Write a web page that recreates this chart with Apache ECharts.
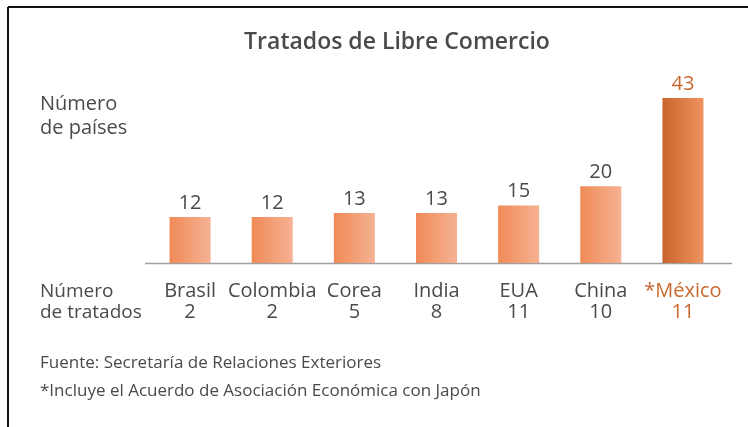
<!DOCTYPE html>
<html>
<head>
<meta charset="utf-8">
<script src="https://cdn.jsdelivr.net/npm/echarts@6/dist/echarts.min.js"></script>
<style>
  html, body { margin: 0; padding: 0; background: #fff; }
  #chart { width: 748px; height: 427px; }
</style>
</head>
<body>
<div id="chart"></div>
<script>
const countries = ['Brasil', 'Colombia', 'Corea', 'India', 'EUA', 'China', '*México']
const paises = [12, 12, 13, 13, 15, 20, 43]
const tratados = [2, 2, 5, 8, 11, 10, 11]
const highlight = '*México'

const FONT = "'Open Sans', 'Noto Sans', sans-serif"
const TEXT = '#4a4a4a'
const ORANGE = '#c8682e'

const lightBar = new echarts.graphic.LinearGradient(0, 0, 1, 0, [
  { offset: 0, color: '#f08a57' },
  { offset: 1, color: '#f5b293' },
])
const darkBar = new echarts.graphic.LinearGradient(0, 0, 1, 0, [
  { offset: 0, color: '#c8642c' },
  { offset: 1, color: '#f0935f' },
])

const chart = echarts.init(document.getElementById('chart'))

chart.setOption({
  animation: false,
  textStyle: { fontFamily: FONT },
  title: {
    text: 'Tratados de Libre Comercio',
    left: 392,
    textAlign: 'center',
    top: 26,
    textStyle: { fontFamily: FONT, fontSize: 23, fontWeight: 600, color: TEXT },
  },
  grid: { left: 149, right: 24, top: 71, bottom: 164 },
  xAxis: {
    type: 'category',
    data: countries,
    axisLine: { show: false },
    axisTick: { show: false },
    axisLabel: {
      margin: 18,
      interval: 0,
      formatter: (v, i) =>
        v === highlight
          ? `{h|${v}}\n{h|${tratados[i]}}`
          : `{n|${v}}\n{n|${tratados[i]}}`,
      rich: {
        n: { fontFamily: FONT, fontSize: 20, color: TEXT, lineHeight: 21 },
        h: { fontFamily: FONT, fontSize: 20, color: ORANGE, lineHeight: 21 },
      },
    },
  },
  yAxis: {
    type: 'value',
    min: 0,
    max: 50,
    show: false,
  },
  series: [
    {
      type: 'bar',
      barWidth: 41,
      data: paises.map((v, i) => ({
        value: v,
        itemStyle: { color: countries[i] === highlight ? darkBar : lightBar },
        label: { color: countries[i] === highlight ? ORANGE : TEXT },
      })),
      label: {
        show: true,
        position: 'top',
        distance: 4,
        fontFamily: FONT,
        fontSize: 20,
      },
    },
  ],
  graphic: [
    // frame
    { type: 'line', shape: { x1: 8, y1: 7, x2: 748, y2: 7 }, style: { stroke: '#111', lineWidth: 2 } },
    { type: 'line', shape: { x1: 8, y1: 7, x2: 8, y2: 427 }, style: { stroke: '#111', lineWidth: 2 } },
    // baseline
    { type: 'line', shape: { x1: 145, y1: 263.5, x2: 732, y2: 263.5 }, style: { stroke: '#a0a0a0', lineWidth: 1.5 } },
    {
      type: 'text', left: 40, top: 92,
      style: { text: 'Número\nde países', fontFamily: FONT, fontSize: 20, lineHeight: 24, fill: TEXT },
    },
    {
      type: 'text', left: 40, top: 281,
      style: { text: 'Número\nde tratados', fontFamily: FONT, fontSize: 19, lineHeight: 21, fill: TEXT },
    },
    {
      type: 'text', left: 40, top: 355,
      style: { text: 'Fuente: Secretaría de Relaciones Exteriores', fontFamily: FONT, fontSize: 17, fill: TEXT },
    },
    {
      type: 'text', left: 40, top: 383,
      style: { text: '*Incluye el Acuerdo de Asociación Económica con Japón', fontFamily: FONT, fontSize: 17, fill: TEXT },
    },
  ],
})
</script>
</body>
</html>
